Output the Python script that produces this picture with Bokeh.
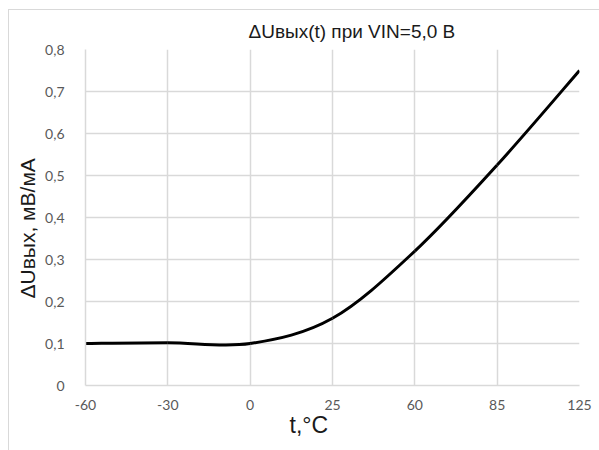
from bokeh.plotting import figure
from bokeh.models import Range1d, FixedTicker, Title
from bokeh.embed import file_html
from bokeh.resources import INLINE

# ---- data ----
temps = ["-60", "-30", "0", "25", "60", "85", "125"]
du = [0.10, 0.102, 0.10, 0.16, 0.32, 0.525, 0.75]
y_ticks = [0, 0.1, 0.2, 0.3, 0.4, 0.5, 0.6, 0.7, 0.8]
y_tick_labels = ["0", "0,1", "0,2", "0,3", "0,4", "0,5", "0,6", "0,7", "0,8"]
title_text = "ΔUвых(t) при VIN=5,0 В"
x_title = "t,°C"
y_title = "ΔUвых, мВ/мА"

xs = list(range(len(temps)))

# smoothed curve: Bezier segments from the data (spreadsheet-style smoothing)
def ctrl(i):
    n = len(xs)
    p = lambda k: (xs[max(0, min(n - 1, k))], du[max(0, min(n - 1, k))])
    x0, y0 = p(i); x1, y1 = p(i + 1)
    xm, ym = p(i - 1); x2, y2 = p(i + 2)
    return (x0, y0, x1, y1,
            x0 + (x1 - xm) / 6, y0 + (y1 - ym) / 6,
            x1 - (x2 - x0) / 6, y1 - (y2 - y0) / 6)

segs = [ctrl(i) for i in range(len(xs) - 1)]
seg = dict(zip(["x0", "y0", "x1", "y1", "cx0", "cy0", "cx1", "cy1"], map(list, zip(*segs))))

p = figure(width=591, height=441, output_backend="svg", toolbar_location=None,
           x_range=Range1d(0, len(temps) - 1), y_range=Range1d(0, 0.8),
           min_border_left=72, min_border_right=21, min_border_top=39, min_border_bottom=66)
p.styles = {"border-left": "1px solid #d9d9d9", "border-top": "1px solid #d9d9d9",
            "margin-left": "8px", "margin-top": "9px"}
p.outline_line_color = None
p.background_fill_color = "white"
p.border_fill_color = "white"

p.bezier(x0=seg["x0"], y0=seg["y0"], x1=seg["x1"], y1=seg["y1"],
         cx0=seg["cx0"], cy0=seg["cy0"], cx1=seg["cx1"], cy1=seg["cy1"],
         line_color="black", line_width=3)

grid_col = "#d9d9d9"
p.xaxis.ticker = FixedTicker(ticks=xs)
p.xaxis.major_label_overrides = {i: t for i, t in zip(xs, temps)}
p.yaxis.ticker = FixedTicker(ticks=y_ticks)
p.yaxis.major_label_overrides = {v: t for v, t in zip(y_ticks, y_tick_labels)}
for ax in (p.xaxis, p.yaxis):
    ax.axis_line_color = grid_col
    ax.axis_line_width = 1.5
    ax.major_tick_line_color = None
    ax.minor_tick_line_color = None
    ax.major_label_text_font = "Lato"
    ax.major_label_text_font_size = "14px"
    ax.major_label_text_color = "#595959"
p.xaxis.major_label_standoff = 8
p.yaxis.major_label_standoff = 15
p.xgrid.ticker = FixedTicker(ticks=xs)
p.ygrid.ticker = FixedTicker(ticks=y_ticks)
p.xgrid.grid_line_color = grid_col
p.ygrid.grid_line_color = grid_col
p.xgrid.grid_line_width = 1.5
p.ygrid.grid_line_width = 1.5

p.add_layout(Title(text=title_text, align="left", offset=163, standoff=16,
                   text_font="Liberation Sans", text_font_size="19px",
                   text_font_style="normal", text_color="#1a1a1a"), "above")
p.add_layout(Title(text=x_title, align="left", offset=204, standoff=-6,
                   text_font="Liberation Sans", text_font_size="23px",
                   text_font_style="normal", text_color="#1a1a1a"), "below")
p.add_layout(Title(text=y_title, align="left", offset=87, standoff=8,
                   text_font="Liberation Sans", text_font_size="21px",
                   text_font_style="normal", text_color="#1a1a1a"), "left")

open("out.html", "w").write(file_html(p, INLINE))
